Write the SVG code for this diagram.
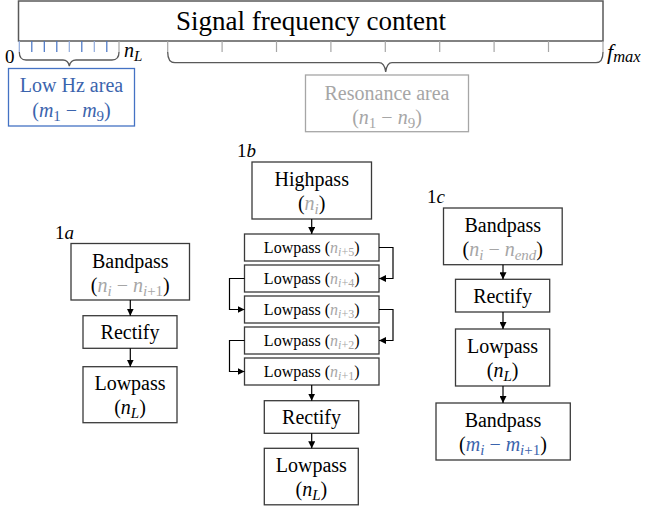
<svg xmlns="http://www.w3.org/2000/svg" width="647" height="509" viewBox="0 0 647 509" font-family="'Liberation Serif', 'DejaVu Serif', serif">
<defs>
<style>
.t{font-family:'Liberation Serif','DejaVu Serif',serif;fill:#000}
.v{font-style:italic}
.g{fill:#A6A6A6}
.bl{fill:#3B64AD}
.s{font-size:75%}
.box{fill:#fff;stroke:#3a3a3a;stroke-width:1.3}
.cn{fill:none;stroke:#000;stroke-width:1.2}
.br{fill:none;stroke:#595959;stroke-width:1.3}
</style>
<marker id="ah" viewBox="0 0 8 8" refX="8" refY="4" markerWidth="7" markerHeight="7" markerUnits="userSpaceOnUse" orient="auto">
<path d="M0,0 L8,4 L0,8 z" fill="#000"/>
</marker>
</defs>
<rect width="647" height="509" fill="#fff"/>

<g id="spectrum">
<rect x="18.5" y="1" width="584.5" height="40" fill="#fff" stroke="#595959" stroke-width="1.5"/>
<text class="t" x="311" y="30" font-size="27" text-anchor="middle">Signal frequency content</text>
<g stroke-width="1.2">
<line x1="19.3" y1="41" x2="19.3" y2="52" stroke="#8FAADC"/>
<line x1="31.8" y1="41" x2="31.8" y2="52" stroke="#4472C4"/>
<line x1="44.3" y1="41" x2="44.3" y2="52" stroke="#4472C4"/>
<line x1="56.8" y1="41" x2="56.8" y2="52" stroke="#4472C4"/>
<line x1="69.3" y1="41" x2="69.3" y2="52" stroke="#8FAADC"/>
<line x1="81.8" y1="41" x2="81.8" y2="52" stroke="#4472C4"/>
<line x1="94.3" y1="41" x2="94.3" y2="52" stroke="#8FAADC"/>
<line x1="106.8" y1="41" x2="106.8" y2="52" stroke="#4472C4"/>
<line x1="119" y1="41" x2="119" y2="52" stroke="#A6A6A6"/>
</g>
<g stroke="#A6A6A6" stroke-width="1.2">
<line x1="167.7" y1="41" x2="167.7" y2="52"/>
<line x1="222.1" y1="41" x2="222.1" y2="52"/>
<line x1="276.5" y1="41" x2="276.5" y2="52"/>
<line x1="330.9" y1="41" x2="330.9" y2="52"/>
<line x1="385.3" y1="41" x2="385.3" y2="52"/>
<line x1="439.7" y1="41" x2="439.7" y2="52"/>
<line x1="494.1" y1="41" x2="494.1" y2="52"/>
<line x1="548.5" y1="41" x2="548.5" y2="52"/>
<line x1="603" y1="41" x2="603" y2="52"/>
</g>
<path class="br" d="M19.3,52 Q19.3,60 26,60 L63,60 Q68,60 69.3,66 Q70.6,60 76,60 L112,60 Q119,60 119,52"/>
<path class="br" d="M167.7,52 Q167.7,62.7 175,62.7 L379,62.7 Q384.5,62.7 385.7,72 Q386.9,62.7 392,62.7 L596,62.7 Q603,62.7 603,52"/>
<text class="t" x="5" y="63" font-size="19">0</text>
<text class="t" x="124" y="57" font-size="20"><tspan class="v">n</tspan><tspan class="s v" dy="4">L</tspan></text>
<text class="t" x="607" y="59" font-size="22"><tspan class="v">f</tspan><tspan class="s v" dy="3">max</tspan></text>
</g>

<g id="lowhz">
<rect x="8.5" y="68.5" width="126" height="57.5" fill="#fff" stroke="#4472C4" stroke-width="1.3"/>
<text class="t bl" x="71.5" y="91.5" font-size="20" text-anchor="middle">Low Hz area</text>
<text class="t bl" x="71.5" y="117" font-size="20" text-anchor="middle">(<tspan class="v">m</tspan><tspan class="s" dy="4">1</tspan><tspan dy="-4"> − </tspan><tspan class="v">m</tspan><tspan class="s" dy="4">9</tspan><tspan dy="-4">)</tspan></text>
</g>

<g id="resonance">
<rect x="305.5" y="75" width="163" height="56.7" fill="#fff" stroke="#A6A6A6" stroke-width="1.3"/>
<text class="t g" x="387" y="99.5" font-size="20" text-anchor="middle">Resonance area</text>
<text class="t g" x="387" y="124" font-size="20" text-anchor="middle">(<tspan class="v">n</tspan><tspan class="s" dy="4">1</tspan><tspan dy="-4"> − </tspan><tspan class="v">n</tspan><tspan class="s" dy="4">9</tspan><tspan dy="-4">)</tspan></text>
</g>

<g id="label-1a"><text class="t" x="55" y="239" font-size="19">1<tspan class="v">a</tspan></text></g>
<g id="label-1b"><text class="t" x="237" y="157" font-size="19">1<tspan class="v">b</tspan></text></g>
<g id="label-1c"><text class="t" x="427" y="203" font-size="19">1<tspan class="v">c</tspan></text></g>

<g id="a-bandpass">
<rect class="box" x="71" y="243.5" width="118.5" height="56.5"/>
<text class="t" x="130.3" y="268" font-size="20" text-anchor="middle">Bandpass</text>
<text class="t" x="130.3" y="292" font-size="20" text-anchor="middle">(<tspan class="g"><tspan class="v">n</tspan><tspan class="s v" dy="4">i</tspan><tspan dy="-4"> − </tspan><tspan class="v">n</tspan><tspan class="s v" dy="4">i</tspan><tspan class="s">+1</tspan></tspan><tspan dy="-4">)</tspan></text>
</g>
<g id="a-rectify">
<rect class="box" x="83" y="315.7" width="94" height="32.6"/>
<text class="t" x="130" y="339" font-size="20" text-anchor="middle">Rectify</text>
</g>
<g id="a-lowpass">
<rect class="box" x="83" y="366.7" width="94" height="56"/>
<text class="t" x="130" y="390" font-size="20" text-anchor="middle">Lowpass</text>
<text class="t" x="130" y="414" font-size="20" text-anchor="middle">(<tspan class="v">n</tspan><tspan class="s v" dy="4">L</tspan><tspan dy="-4">)</tspan></text>
</g>

<g id="b-highpass">
<rect class="box" x="252" y="162" width="119.5" height="57"/>
<text class="t" x="311.7" y="186" font-size="20" text-anchor="middle">Highpass</text>
<text class="t" x="311.7" y="210" font-size="20" text-anchor="middle">(<tspan class="g v">n</tspan><tspan class="g s v" dy="4">i</tspan><tspan dy="-4">)</tspan></text>
</g>
<g id="b-lp5">
<rect class="box" x="244.5" y="234" width="134.5" height="27"/>
<text class="t" x="311.7" y="253" font-size="16" text-anchor="middle">Lowpass (<tspan class="g v">n</tspan><tspan class="g s v" dy="3">i</tspan><tspan class="g s">+5</tspan><tspan dy="-3">)</tspan></text>
</g>
<g id="b-lp4">
<rect class="box" x="244.5" y="265" width="134.5" height="27"/>
<text class="t" x="311.7" y="284" font-size="16" text-anchor="middle">Lowpass (<tspan class="g v">n</tspan><tspan class="g s v" dy="3">i</tspan><tspan class="g s">+4</tspan><tspan dy="-3">)</tspan></text>
</g>
<g id="b-lp3">
<rect class="box" x="244.5" y="296" width="134.5" height="27"/>
<text class="t" x="311.7" y="315" font-size="16" text-anchor="middle">Lowpass (<tspan class="g v">n</tspan><tspan class="g s v" dy="3">i</tspan><tspan class="g s">+3</tspan><tspan dy="-3">)</tspan></text>
</g>
<g id="b-lp2">
<rect class="box" x="244.5" y="327" width="134.5" height="27"/>
<text class="t" x="311.7" y="346" font-size="16" text-anchor="middle">Lowpass (<tspan class="g v">n</tspan><tspan class="g s v" dy="3">i</tspan><tspan class="g s">+2</tspan><tspan dy="-3">)</tspan></text>
</g>
<g id="b-lp1">
<rect class="box" x="244.5" y="358" width="134.5" height="27"/>
<text class="t" x="311.7" y="377" font-size="16" text-anchor="middle">Lowpass (<tspan class="g v">n</tspan><tspan class="g s v" dy="3">i</tspan><tspan class="g s">+1</tspan><tspan dy="-3">)</tspan></text>
</g>
<g id="b-rectify">
<rect class="box" x="264.3" y="400.7" width="94.4" height="32.6"/>
<text class="t" x="311.5" y="424" font-size="20" text-anchor="middle">Rectify</text>
</g>
<g id="b-lowpass">
<rect class="box" x="264.3" y="448.3" width="94" height="56.5"/>
<text class="t" x="311.3" y="472" font-size="20" text-anchor="middle">Lowpass</text>
<text class="t" x="311.3" y="496" font-size="20" text-anchor="middle">(<tspan class="v">n</tspan><tspan class="s v" dy="4">L</tspan><tspan dy="-4">)</tspan></text>
</g>

<g id="c-bandpass">
<rect class="box" x="443.5" y="208" width="118.7" height="56.7"/>
<text class="t" x="502.8" y="232" font-size="20" text-anchor="middle">Bandpass</text>
<text class="t" x="502.8" y="256" font-size="20" text-anchor="middle">(<tspan class="g"><tspan class="v">n</tspan><tspan class="s v" dy="4">i</tspan><tspan dy="-4"> − </tspan><tspan class="v">n</tspan><tspan class="s v" dy="4">end</tspan></tspan><tspan dy="-4">)</tspan></text>
</g>
<g id="c-rectify">
<rect class="box" x="455.5" y="279.3" width="94.2" height="32.7"/>
<text class="t" x="502.6" y="303" font-size="20" text-anchor="middle">Rectify</text>
</g>
<g id="c-lowpass">
<rect class="box" x="455.5" y="329" width="94.2" height="57"/>
<text class="t" x="502.6" y="353" font-size="20" text-anchor="middle">Lowpass</text>
<text class="t" x="502.6" y="377" font-size="20" text-anchor="middle">(<tspan class="v">n</tspan><tspan class="s v" dy="4">L</tspan><tspan dy="-4">)</tspan></text>
</g>
<g id="c-bandpass2">
<rect class="box" x="436" y="403" width="134.3" height="57"/>
<text class="t" x="503" y="427" font-size="20" text-anchor="middle">Bandpass</text>
<text class="t" x="503" y="451" font-size="20" text-anchor="middle">(<tspan class="bl"><tspan class="v">m</tspan><tspan class="s v" dy="4">i</tspan><tspan dy="-4"> − </tspan><tspan class="v">m</tspan><tspan class="s v" dy="4">i</tspan><tspan class="s">+1</tspan></tspan><tspan dy="-4">)</tspan></text>
</g>

<g id="connectors">
<line class="cn" x1="130.3" y1="300" x2="130.3" y2="315.7" marker-end="url(#ah)"/>
<line class="cn" x1="130.3" y1="348.3" x2="130.3" y2="366.7" marker-end="url(#ah)"/>
<line class="cn" x1="311.7" y1="219" x2="311.7" y2="234" marker-end="url(#ah)"/>
<polyline class="cn" points="379,247.5 393,247.5 393,278.5 379,278.5" marker-end="url(#ah)"/>
<polyline class="cn" points="244.5,278.5 229.5,278.5 229.5,309.5 244.5,309.5" marker-end="url(#ah)"/>
<polyline class="cn" points="379,309.5 393,309.5 393,340.5 379,340.5" marker-end="url(#ah)"/>
<polyline class="cn" points="244.5,340.5 229.5,340.5 229.5,371.5 244.5,371.5" marker-end="url(#ah)"/>
<line class="cn" x1="311.7" y1="385" x2="311.7" y2="400.7" marker-end="url(#ah)"/>
<line class="cn" x1="311.7" y1="433.3" x2="311.7" y2="448.3" marker-end="url(#ah)"/>
<line class="cn" x1="503" y1="264.7" x2="503" y2="279.3" marker-end="url(#ah)"/>
<line class="cn" x1="503" y1="312" x2="503" y2="329" marker-end="url(#ah)"/>
<line class="cn" x1="503" y1="386" x2="503" y2="403" marker-end="url(#ah)"/>
</g>
</svg>
